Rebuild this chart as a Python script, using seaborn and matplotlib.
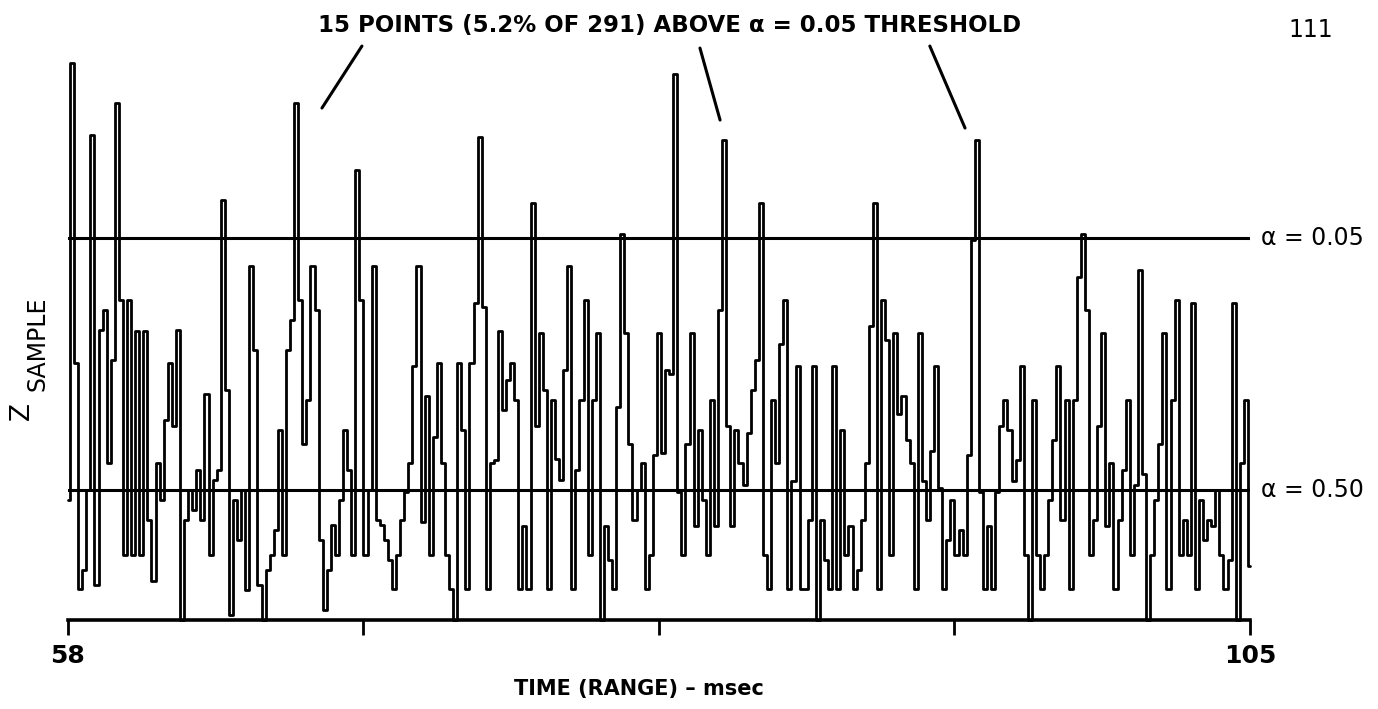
import numpy as np
import pandas as pd
import matplotlib
matplotlib.use("Agg")
import matplotlib.pyplot as plt
import seaborn as sns

# ---------------- data ----------------
T_START, T_END = 58.0, 105.0
Z_SAMPLE = [
    1.2, 5.57, 2.57, 0.31, 0.5, 1.3, 4.85, 0.35, 2.9, 3.1,
    1.57, 2.6, 5.17, 3.2, 0.65, 3.2, 0.65, 2.89, 0.65, 2.89,
    1.0, 0.39, 1.57, 1.2, 2.0, 2.57, 1.94, 2.9, 0.0, 1.0,
    1.3, 1.1, 1.5, 1.0, 2.26, 0.65, 1.4, 1.5, 4.2, 2.3,
    0.05, 1.2, 0.8, 1.3, 0.3, 3.54, 2.7, 0.35, 0.0, 0.5,
    0.65, 0.9, 1.9, 0.65, 2.7, 3.0, 5.17, 3.2, 1.76, 2.2,
    3.54, 3.1, 0.8, 0.1, 0.5, 0.95, 0.65, 1.2, 1.9, 1.5,
    0.65, 4.5, 3.2, 0.65, 1.3, 3.54, 1.0, 0.95, 0.8, 0.6,
    0.31, 0.65, 1.0, 1.28, 1.57, 2.54, 3.54, 0.98, 2.24, 0.65,
    1.83, 2.57, 1.57, 0.65, 0.31, 0.0, 2.57, 1.9, 0.31, 2.57,
    3.17, 4.83, 3.13, 0.31, 1.57, 1.6, 2.89, 2.1, 2.4, 2.57,
    2.2, 0.31, 0.94, 0.31, 4.17, 1.94, 2.87, 2.3, 0.31, 2.2,
    1.61, 1.4, 2.5, 3.54, 0.31, 1.5, 2.2, 3.2, 0.65, 2.2,
    2.87, 0.0, 0.94, 0.6, 0.31, 2.13, 3.86, 2.87, 1.76, 1.0,
    1.3, 1.57, 0.31, 0.65, 1.65, 2.87, 1.67, 2.5, 2.46, 5.46,
    1.28, 0.65, 1.76, 2.87, 0.94, 1.9, 1.2, 0.65, 2.2, 0.94,
    3.1, 4.8, 1.94, 0.94, 1.9, 1.57, 1.35, 1.87, 2.3, 2.6,
    4.17, 0.65, 0.31, 2.2, 1.57, 2.76, 3.2, 0.31, 1.39, 2.54,
    0.31, 0.31, 1.0, 2.54, 0.0, 1.0, 0.6, 0.31, 2.54, 0.31,
    1.9, 0.65, 0.94, 0.31, 0.5, 1.0, 1.57, 2.94, 4.17, 0.31,
    3.2, 2.8, 0.65, 2.87, 2.06, 2.24, 1.8, 1.57, 0.31, 2.87,
    1.39, 1.0, 1.69, 2.54, 1.32, 0.31, 0.8, 1.2, 0.65, 0.9,
    0.65, 1.65, 3.8, 4.8, 1.28, 0.31, 0.94, 0.31, 1.28, 1.94,
    2.2, 1.9, 1.39, 1.6, 2.54, 0.65, 0.0, 2.2, 0.65, 0.31,
    0.65, 1.2, 1.8, 2.54, 1.0, 2.2, 0.31, 2.2, 3.43, 3.86,
    3.1, 0.65, 1.0, 1.94, 2.87, 0.94, 1.57, 0.31, 1.0, 1.5,
    2.2, 0.65, 1.35, 3.5, 1.46, 0.0, 0.65, 1.2, 1.76, 2.87,
    0.31, 2.2, 3.2, 0.65, 1.0, 0.65, 3.17, 0.31, 1.2, 0.8,
    1.0, 0.94, 1.3, 0.65, 0.31, 0.6, 3.17, 0.0, 1.57, 2.2,
    0.54,
]
TIME = np.linspace(T_START, T_END, len(Z_SAMPLE))
ALPHA_LABELS = ["\u03b1 = 0.05", "\u03b1 = 0.50"]
ALPHA_THRESHOLDS = [3.82, 1.30]
X_TICKS = [58, 69.75, 81.5, 93.25, 105]
X_TICK_LABELS = ["58", "", "", "", "105"]
TITLE = "15 POINTS (5.2% OF 291) ABOVE \u03b1 = 0.05 THRESHOLD"
PAGE = "111"

df = pd.DataFrame({"time": TIME, "z": Z_SAMPLE})

# ---------------- style ----------------
sns.set_theme(style="white")
plt.rcParams["font.family"] = ["DejaVu Sans"]
plt.rcParams["text.color"] = "black"
plt.rcParams["xtick.color"] = "black"
plt.rcParams["xtick.labelcolor"] = "black"

fig = plt.figure(figsize=(13.78, 7.09), dpi=100)
ax = fig.add_axes([0.0493, 0.1255, 0.8578, 0.7898])

sns.lineplot(data=df, x="time", y="z", ax=ax, color="black",
             linewidth=2.0, drawstyle="steps-mid", clip_on=False)

for lab, thr in zip(ALPHA_LABELS, ALPHA_THRESHOLDS):
    ax.axhline(thr, color="black", linewidth=2.2)
    ax.text(T_END + 0.45, thr, lab, ha="left", va="center",
            fontsize=17, color="black", clip_on=False)

ax.set_xlim(T_START, T_END)
ax.set_ylim(0, 5.6)
ax.set_yticks([])
ax.set_xticks(X_TICKS)
ax.set_xticklabels(X_TICK_LABELS, fontsize=18, fontweight="bold")
ax.tick_params(axis="x", direction="out", length=11, width=2,
               color="black", labelcolor="black", pad=6, bottom=True)
for side in ["left", "right", "top"]:
    ax.spines[side].set_visible(False)
ax.spines["bottom"].set_linewidth(2.6)
ax.spines["bottom"].set_color("black")
ax.set_xlabel("")
ax.set_ylabel("")
ax.patch.set_alpha(0)

# annotation leader lines
leaders = [((69.69, 5.74), (68.1, 5.12)),
           ((83.13, 5.72), (83.93, 5.00)),
           ((92.27, 5.74), (93.67, 4.92))]
for start, end in leaders:
    ax.annotate("", xy=end, xytext=start, xycoords="data",
                textcoords="data", annotation_clip=False,
                arrowprops=dict(arrowstyle="-", color="black", lw=2.2,
                                shrinkA=0, shrinkB=0))

fig.text(0.486, 0.964, TITLE, ha="center", va="center",
         fontsize=16.5, fontweight="bold", color="black")
fig.text(0.951, 0.957, PAGE, ha="center", va="center", fontsize=17,
         color="black")
fig.text(0.464, 0.028, "TIME (RANGE) \u2013 msec", ha="center", va="center",
         fontsize=15, fontweight="bold", color="black")
fig.text(0.016, 0.42, "Z", rotation=90, ha="center", va="center",
         fontsize=19, color="black")
fig.text(0.027, 0.515, "SAMPLE", rotation=90, ha="center", va="center",
         fontsize=17, color="black")

fig.savefig("out.png", dpi=100, facecolor="white")
